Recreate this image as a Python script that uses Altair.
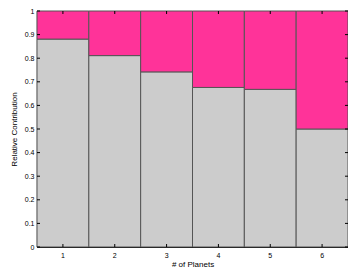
import altair as alt
import pandas as pd

planets = [1, 2, 3, 4, 5, 6]
gray_frac = [0.881, 0.811, 0.742, 0.676, 0.668, 0.50]
y_ticks = [0, 0.1, 0.2, 0.3, 0.4, 0.5, 0.6, 0.7, 0.8, 0.9, 1]

W, H = 311, 236
FONT = "Liberation Sans"

df = pd.DataFrame({"n": planets, "frac": gray_frac})
ticks_df = pd.DataFrame({"v": y_ticks})
xt_df = pd.DataFrame({"n": planets})

xscale = alt.Scale(paddingInner=0, paddingOuter=0)
yscale = alt.Scale(domain=[0, 1], nice=False)

xaxis = alt.Axis(labelAngle=0, tickSize=0, domain=True, domainColor="black",
                 domainWidth=1.2, labelFontSize=7, labelPadding=4,
                 titleFontSize=8, titlePadding=2, labelFont=FONT, titleFont=FONT,
                 titleFontWeight="normal", labelColor="black", titleColor="black")
yaxis = alt.Axis(values=y_ticks, tickSize=0, domainColor="black", domainWidth=1.2,
                 labelFontSize=7, labelPadding=3, labelFont=FONT, titleFont=FONT,
                 titleFontSize=8, titleFontWeight="normal", labelColor="black",
                 titleColor="black", grid=False, titleX=-19, titleY=H / 2,
                 labelOverlap=False, labelBound=False,
                 labelExpr="datum.value == 0 ? '0' : datum.value == 1 ? '1' : format(datum.value, '.1f')")

XT = "# of Planets"
YT = "Relative Contribution"


def xe(**kw):
    return alt.X("n:O", scale=xscale, axis=xaxis, title=XT, **kw)


def ye(field):
    return alt.Y(field, scale=yscale, axis=yaxis, title=YT)


base = alt.Chart(df)
gray = base.mark_bar(color="#CCCCCC", stroke="#555555", strokeWidth=1).encode(
    x=xe(), y=ye("frac:Q"), y2=alt.datum(0),
)
pink = base.transform_calculate(one="1").mark_bar(color="#FF3399", stroke="#555555", strokeWidth=1).encode(
    x=xe(), y=ye("frac:Q"), y2="one:Q",
)

left_ticks = alt.Chart(ticks_df).mark_rule(color="black", strokeWidth=1).encode(
    y=ye("v:Q"), x=alt.value(0), x2=alt.value(3))
right_ticks = alt.Chart(ticks_df).mark_rule(color="black", strokeWidth=1).encode(
    y=ye("v:Q"), x=alt.value(W), x2=alt.value(W - 3))
bottom_ticks = alt.Chart(xt_df).mark_rule(color="black", strokeWidth=1).encode(
    x=xe(bandPosition=0.5), y=alt.value(H), y2=alt.value(H - 3))
top_ticks = alt.Chart(xt_df).mark_rule(color="black", strokeWidth=1).encode(
    x=xe(bandPosition=0.5), y=alt.value(0), y2=alt.value(3))

chart = alt.layer(gray, pink, left_ticks, right_ticks, bottom_ticks, top_ticks).properties(
    width=W, height=H,
    autosize=alt.AutoSizeParams(type="none"),
    padding={"left": 29, "top": 3, "right": 0, "bottom": 24},
).configure_view(stroke="black", strokeWidth=1.2).configure(background="white")

chart.save("out.html", embed_options={"renderer": "svg", "actions": False})
